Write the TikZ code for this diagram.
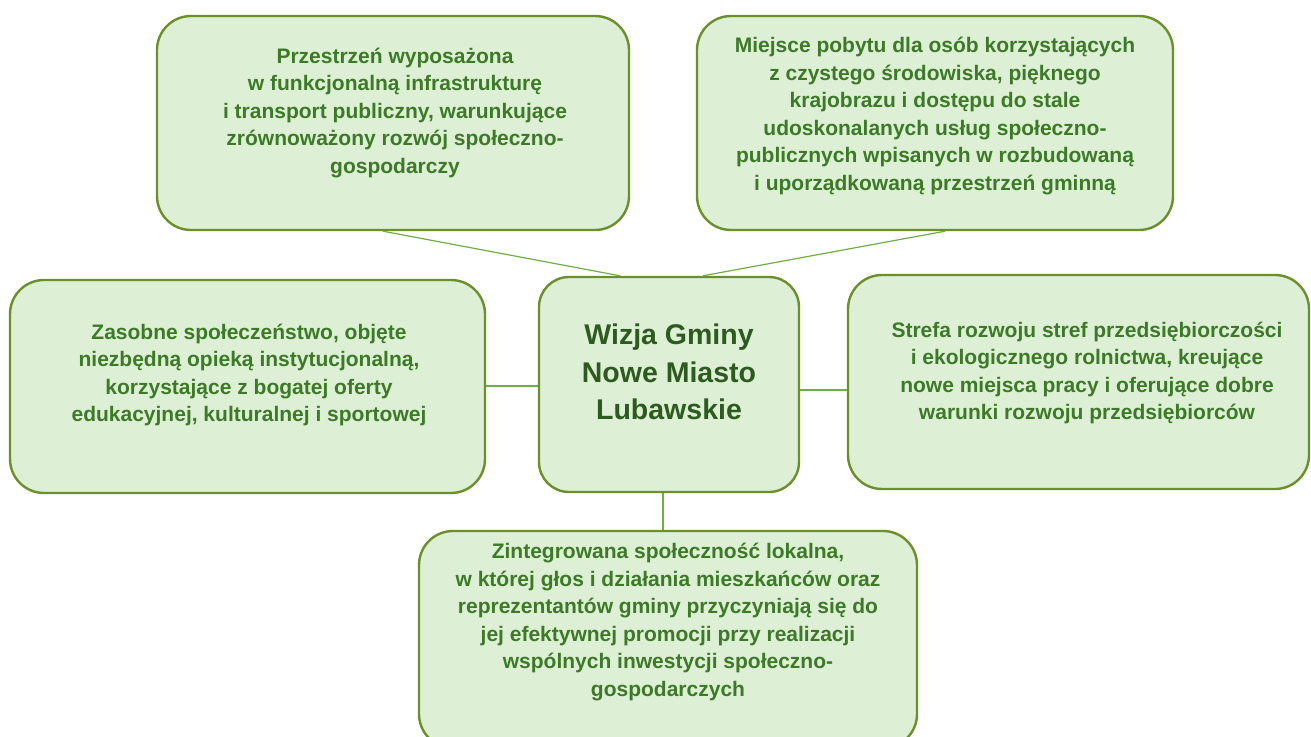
\documentclass[tikz,border=0pt]{standalone}
\usepackage{fontspec}
\setmainfont{Liberation Sans}
\usetikzlibrary{calc}
\definecolor{boxfill}{HTML}{DDEFD5}
\definecolor{boxborder}{HTML}{6A8F2B}
\definecolor{connline}{HTML}{70AD47}
\definecolor{txtgreen}{HTML}{3C7A27}
\definecolor{ctrgreen}{HTML}{2D5A1E}
\tikzset{
  box/.style={draw=boxborder, line width=2.4pt, fill=boxfill, rounded corners=34pt, inner sep=0pt},
  txt/.style={align=center, text=txtgreen, font=\fontsize{21}{27.5}\selectfont\bfseries, inner sep=0pt},
  ctxt/.style={align=center, text=ctrgreen, font=\fontsize{28.5}{37.5}\selectfont\bfseries, inner sep=0pt},
  conn/.style={draw=connline, line width=1.2pt}
}
\begin{document}
\begin{tikzpicture}[x=1pt,y=-1pt]
\useasboundingbox (0,0) rectangle (1311,736);
\begin{scope}
\clip (0,0) rectangle (1311,736);
% boxes
\node[box, minimum width=472pt, minimum height=214pt] (tl) at (393,123) {};
\node[box, minimum width=476pt, minimum height=214pt] (tr) at (935,123) {};
\node[box, minimum width=475pt, minimum height=213pt] (l) at (247.5,386.5) {};
\node[box, rounded corners=30pt, minimum width=260pt, minimum height=215pt] (c) at (669,384.5) {};
\node[box, minimum width=461pt, minimum height=214pt] (r) at (1078.5,382) {};
\node[box, minimum width=498pt, minimum height=217pt] (b) at (668,639.5) {};
% connectors
\draw[conn] ($(tl.south)+(-10,0)$) -- ($(c.north)+(-49,0)$);
\draw[conn] ($(tr.south)+(10,0)$) -- ($(c.north)+(34,0)$);
\draw[conn] ($(l.east)+(0,-0.5)$) coordinate (le) -- (le -| c.west);
\draw[conn] ($(c.east)+(0,5.5)$) coordinate (ce) -- (ce -| r.west);
\draw[conn] ($(c.south)+(-6,0)$) coordinate (cs) -- (cs |- b.north);
% texts
\node[txt] (tlt) at (395,113) {Przestrzeń wyposażona\\w funkcjonalną infrastrukturę\\i transport publiczny, warunkujące\\zrównoważony rozwój społeczno-\\gospodarczy};
\node[txt] (trt) at (935,116) {Miejsce pobytu dla osób korzystających\\z czystego środowiska, pięknego\\krajobrazu i dostępu do stale\\udoskonalanych usług społeczno-\\publicznych wpisanych w rozbudowaną\\i uporządkowaną przestrzeń gminną};
\node[txt] (lt) at (249,375) {Zasobne społeczeństwo, objęte\\niezbędną opieką instytucjonalną,\\korzystające z bogatej oferty\\edukacyjnej, kulturalnej i sportowej};
\node[ctxt] (ct) at (669,372) {Wizja Gminy\\Nowe Miasto\\Lubawskie};
\node[txt] (rt) at (1087,373) {Strefa rozwoju stref przedsiębiorczości\\i ekologicznego rolnictwa, kreujące\\nowe miejsca pracy i oferujące dobre\\warunki rozwoju przedsiębiorców};
\node[txt] (bt) at (668,622) {Zintegrowana społeczność lokalna,\\w której głos i działania mieszkańców oraz\\reprezentantów gminy przyczyniają się do\\jej efektywnej promocji przy realizacji\\wspólnych inwestycji społeczno-\\gospodarczych};
\end{scope}
\end{tikzpicture}
\end{document}
